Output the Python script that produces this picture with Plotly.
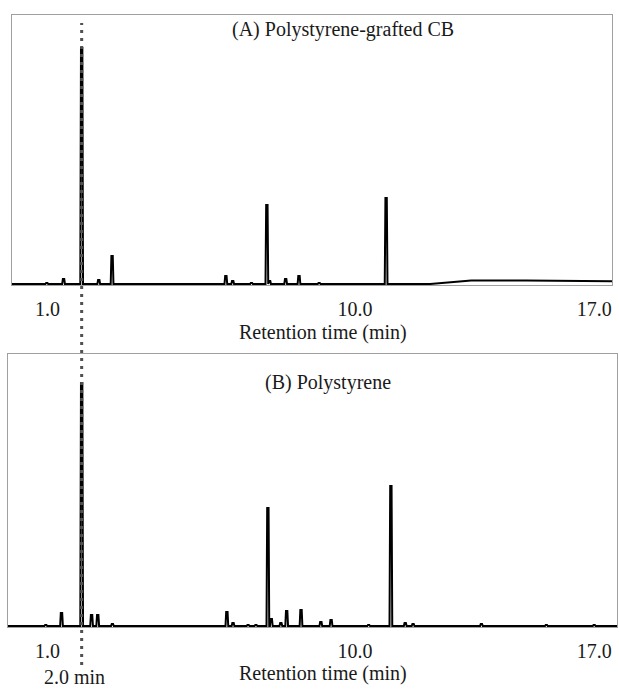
import plotly.graph_objects as go

# ---------------- data ----------------
# Panel A: Polystyrene-grafted CB  (retention time in min, relative intensity)
peak_time_a = [0.98, 1.47, 2.00, 2.50, 2.89, 6.22, 6.42, 6.97, 7.42, 7.50, 7.97, 8.36, 8.95, 10.91]
peak_height_a = [1, 5, 236, 4, 28, 8, 3, 1, 79, 3, 5, 8, 1, 86]
baseline_time_a = [-0.2, 12.2, 12.8, 13.4, 15.0, 17.7]
baseline_level_a = [0, 0, 1.5, 3.5, 3.5, 2.8]

# Panel B: Polystyrene
peak_time_b = [0.95, 1.41, 2.00, 2.29, 2.47, 2.90, 6.25, 6.43, 6.87, 7.10, 7.45, 7.55,
               7.83, 8.00, 8.42, 9.00, 9.30, 10.40, 11.05, 11.47, 11.70, 13.70, 15.60, 17.00]
peak_height_b = [1, 13, 243, 11, 11, 2, 14, 3, 1, 1, 118, 7,
                 3, 15, 16, 4, 6, 1, 140, 3, 2, 2, 1, 1]
baseline_time_b = [-0.3, 17.8]
baseline_level_b = [0, 0]

tick_values = [1, 10, 17]
tick_labels = ["1.0", "10.0", "17.0"]
marker_time = 2.0
marker_label = "2.0 min"
title_a = "(A) Polystyrene-grafted CB"
title_b = "(B) Polystyrene"
x_title = "Retention time (min)"

HALF_WIDTH = 0.02  # peak half width (min), a style choice


def chromatogram(pt, ph, bt, bl):
    pts = list(zip(bt, bl))
    for t, h in zip(pt, ph):
        pts += [(t - 2 * HALF_WIDTH, 0), (t - HALF_WIDTH, h),
                (t + HALF_WIDTH, h), (t + 2 * HALF_WIDTH, 0)]
    pts.sort(key=lambda p: p[0])
    return [p[0] for p in pts], [p[1] for p in pts]


xa, ya = chromatogram(peak_time_a, peak_height_a, baseline_time_a, baseline_level_a)
xb, yb = chromatogram(peak_time_b, peak_height_b, baseline_time_b, baseline_level_b)

W, H = 619, 689
FONT = "Liberation Serif"
FS = 20

fig = go.Figure()
fig.add_trace(go.Scatter(x=xa, y=ya, mode="lines", line=dict(color="black", width=2),
                         xaxis="x", yaxis="y", showlegend=False, hoverinfo="skip"))
fig.add_trace(go.Scatter(x=xb, y=yb, mode="lines", line=dict(color="black", width=2),
                         xaxis="x2", yaxis="y2", showlegend=False, hoverinfo="skip"))

axis_common = dict(showgrid=False, zeroline=False, showline=True, mirror=True,
                   linecolor="#a0a0a0", linewidth=1)
xcommon = dict(axis_common, tickvals=tick_values, ticktext=tick_labels,
               ticks="outside", ticklen=6, tickcolor="rgba(0,0,0,0)",
               tickfont=dict(family=FONT, size=FS, color="#1a1a1a"))
ycommon = dict(axis_common, showticklabels=False, ticks="")

fig.update_layout(
    width=W, height=H, margin=dict(l=0, r=0, t=0, b=0),
    paper_bgcolor="white", plot_bgcolor="white",
    xaxis=dict(xcommon, domain=[12 / W, 612 / W], range=[-0.039, 17.521], anchor="y"),
    yaxis=dict(ycommon, domain=[1 - 285 / H, 1 - 15 / H], range=[-1, 269], anchor="x"),
    xaxis2=dict(xcommon, domain=[8 / W, 617 / W], range=[-0.156, 17.668], anchor="y2"),
    yaxis2=dict(ycommon, domain=[1 - 627 / H, 1 - 354 / H], range=[-1, 272], anchor="x2"),
)

fig.add_shape(type="line", xref="x", yref="paper", x0=marker_time, x1=marker_time,
              y0=1 - 665 / H, y1=1 - 23 / H,
              line=dict(color="#505050", width=3, dash="3px,5px"))

ann_font = dict(family=FONT, size=FS, color="#1a1a1a")
for text, px, py in [(title_a, 343, 30), (title_b, 328, 382),
                     (x_title, 323, 332), (x_title, 323, 673),
                     (marker_label, 74, 677)]:
    fig.add_annotation(text=text, x=px / W, y=1 - py / H, xref="paper", yref="paper",
                       showarrow=False, font=ann_font, xanchor="center", yanchor="middle")

fig.write_html("out.html", config={"displayModeBar": False},
               post_script="document.body.style.margin='0';document.body.style.overflow='hidden';")
